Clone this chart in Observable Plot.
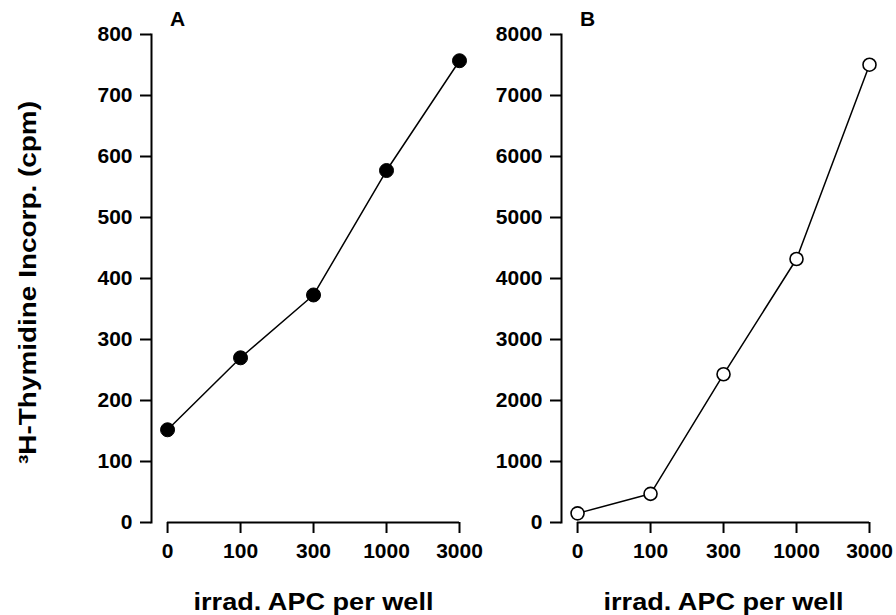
<!DOCTYPE html>
<html><head><meta charset="utf-8">
<script src="https://cdn.jsdelivr.net/npm/d3@7"></script>
<script src="https://cdn.jsdelivr.net/npm/@observablehq/plot@0.6"></script>
<style>
html,body{margin:0;padding:0;background:#fff;}
#wrap{position:relative;width:896px;height:615px;overflow:hidden;background:#fff;}
#wrap svg{position:absolute;top:0;}
</style></head><body><div id="wrap"></div>
<script>
const apcLabels = ["0", "100", "300", "1000", "3000"];
const cpmA = [152, 270, 373, 577, 757];
const cpmB = [150, 470, 2430, 4320, 7505];
const yTicksA = [0, 100, 200, 300, 400, 500, 600, 700, 800];
const yTicksB = [0, 1000, 2000, 3000, 4000, 5000, 6000, 7000, 8000];
const panelNames = ["A", "B"];
const xTitle = "irrad. APC per well";
const yTitle = "³H-Thymidine Incorp. (cpm)";

const FONT = "'Liberation Sans', Arial, Helvetica, sans-serif";

function panel({values, yTicks, name, filled, showYTitle, left}) {
  const data = values.map((v, i) => ({i, v}));
  const n = apcLabels.length;
  const marks = [
    Plot.frame({anchor: "left", strokeWidth: 2}),
    Plot.ruleY([0], {x1: () => 0, x2: () => n - 1, strokeWidth: 2}),
    Plot.axisY({ticks: yTicks, tickSize: 11, tickPadding: 8, tickFormat: d => String(d), label: null, strokeWidth: 2, fontSize: 21, fontWeight: "bold"}),
    Plot.axisX({ticks: d3.range(n), tickSize: 11, tickPadding: 10, tickFormat: i => apcLabels[i], label: null, strokeWidth: 2, fontSize: 21, fontWeight: "bold"}),
    Plot.line(data, {x: "i", y: "v", stroke: "black", strokeWidth: 1.5}),
    Plot.dot(data, {x: "i", y: "v", r: filled ? 7 : 6.5, fill: filled ? "black" : "white", stroke: "black", strokeWidth: filled ? 1 : 1.6}),
    Plot.text([name], {frameAnchor: "top-left", textAnchor: "middle", dx: 26, dy: -15, fontSize: 21, fontWeight: "bold", lineAnchor: "middle"}),
    Plot.text([xTitle], {frameAnchor: "bottom", textAnchor: "middle", dx: 8, dy: 80, fontSize: 24, fontWeight: "bold", lineAnchor: "middle"})
  ];
  if (showYTitle) {
    marks.push(Plot.text([yTitle], {frameAnchor: "left", textAnchor: "middle", rotate: -90, dx: -123, dy: 4, fontSize: 24, fontWeight: "bold", lineAnchor: "middle"}));
  }
  const svg = Plot.plot({
    width: 486,
    height: 615,
    marginLeft: 151,
    marginRight: 27,
    marginTop: 34,
    marginBottom: 93,
    x: {type: "linear", domain: [-0.22, n - 1]},
    y: {domain: [0, yTicks[yTicks.length - 1]]},
    style: {fontFamily: FONT, fontSize: "21px", fontWeight: "bold", background: "none", overflow: "visible", color: "black"},
    marks
  });
  svg.style.left = left + "px";
  d3.select(svg).selectAll("text").each(function() {
    const t = this.textContent;
    if (t === xTitle) { this.setAttribute("textLength", 240); this.setAttribute("lengthAdjust", "spacingAndGlyphs"); }
    if (t === yTitle) { this.setAttribute("textLength", 363); this.setAttribute("lengthAdjust", "spacingAndGlyphs"); }
  });
  return svg;
}

const wrap = document.getElementById("wrap");
wrap.appendChild(panel({values: cpmA, yTicks: yTicksA, name: panelNames[0], filled: true, showYTitle: true, left: 0}));
wrap.appendChild(panel({values: cpmB, yTicks: yTicksB, name: panelNames[1], filled: false, showYTitle: false, left: 410}));
</script>
</body></html>
